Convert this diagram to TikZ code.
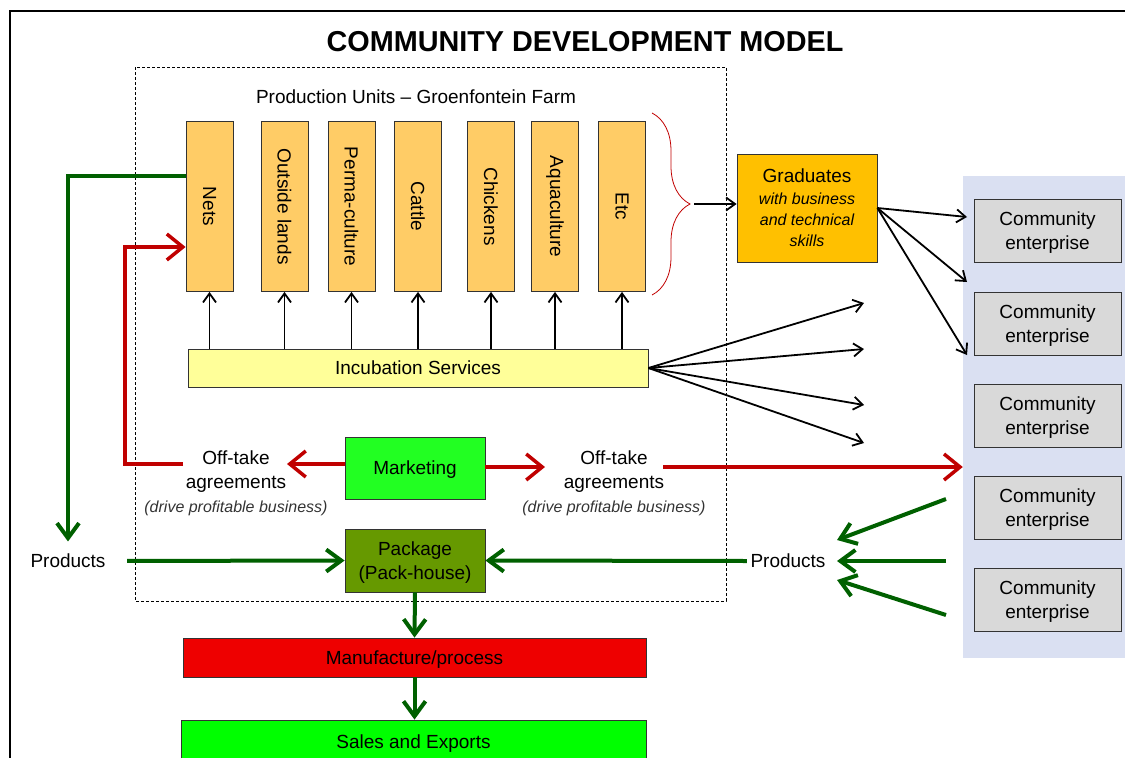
\documentclass[tikz,border=0pt]{standalone}
\usepackage{fontspec}
\setmainfont{Liberation Sans}
\usepackage{graphicx}
\usetikzlibrary{arrows.meta,decorations.pathreplacing}

\definecolor{unitfill}{HTML}{FFCC66}
\definecolor{gradfill}{HTML}{FFC000}
\definecolor{incfill}{HTML}{FFFF99}
\definecolor{mktfill}{HTML}{22FF22}
\definecolor{pkgfill}{HTML}{669900}
\definecolor{mfgfill}{HTML}{EE0000}
\definecolor{salesfill}{HTML}{00FF00}
\definecolor{cefill}{HTML}{D9D9D9}
\definecolor{cebackfill}{HTML}{DAE0F2}
\definecolor{redline}{HTML}{C00000}
\definecolor{greenline}{HTML}{006000}

\newcommand{\smallit}[1]{{\itshape\fontsize{16}{18}\selectfont #1}}

\tikzset{
  txt/.style={font=\fontsize{19}{24}\selectfont, align=center},
  unitbox/.style={txt, draw=black!80, line width=0.8pt, inner sep=0pt, fill=unitfill, minimum width=47pt, minimum height=170pt},
  box/.style={txt, draw=black!80, line width=0.8pt, inner sep=0pt, text depth=0pt},
  cebox/.style={box, fill=cefill, minimum width=147pt, minimum height=63pt},
  blackarr/.style={line width=1.8pt, -{Straight Barb[length=9pt,width=13pt]}},
  redarr/.style={draw=redline, line width=3.5pt, -{Straight Barb[length=16pt,width=26pt]}},
  greenarr/.style={draw=greenline, line width=4pt, -{Straight Barb[length=15pt,width=22pt]}}
}

\begin{document}
\begin{tikzpicture}[x=1pt, y=-1pt]
	\useasboundingbox (0,0) rectangle (1125,758);
	\draw[line width=1.5pt] (10,780) |- (1140,11);
	\node[font=\fontsize{28.8}{30}\selectfont\bfseries] (title) at (585,42) {COMMUNITY DEVELOPMENT MODEL};
	\draw[dashed, line width=0.8pt, dash pattern=on 3pt off 2pt] (135,67) rectangle (726,601);
	\node[txt] (prodlbl) at (416,97) {Production Units – Groenfontein Farm};

	% production units
	\foreach \n/\x/\t in {1/209.5/Nets, 2/284.5/Outside lands, 3/351.5/Perma-culture, 4/418/Cattle, 5/491/Chickens, 6/555/Aquaculture, 7/622/Etc}
	{
		\node[unitbox] (u\n) at (\x,206.5) {\rotatebox{-90}{\t}};
	}
	\draw[redline, line width=0.8pt, decorate, decoration={brace, amplitude=38pt}] (652,113) -- (652,295);
	\coordinate (bt) at (694,204);

	\node[box, fill=incfill, minimum width=460pt, minimum height=38pt] (inc) at (418,368) {Incubation Services};
	\foreach \n in {1,...,7}
	{
		\draw[blackarr] (inc.north -| u\n.south) -- (u\n.south);
	}

	\node[box, fill=gradfill, minimum width=140pt, minimum height=108pt, font=\fontsize{19}{23}\selectfont] (grad) at (807,208)
		{Graduates\\[-1pt]\smallit{with business}\\[-2pt]\smallit{and technical}\\[-2pt]\smallit{skills}};
	\draw[blackarr] (bt) -- (bt -| grad.west);

	% community enterprises
	\node[fill=cebackfill, minimum width=172pt, minimum height=482pt, inner sep=0pt] (ceback) at (1049,417) {};
	\foreach \n/\y in {1/230.5, 2/323.5, 3/415.5, 4/507.5, 5/599.5}
	{
		\node[cebox] (ce\n) at (1047.5,\y) {Community\\enterprise};
	}
	\foreach \y in {217,282,355}
	{
		\draw[blackarr] (grad.east) -- (967,\y);
	}
	\foreach \y in {303,349,405,443}
	{
		\draw[blackarr] (inc.east) -- (864,\y);
	}

	% marketing
	\node[box, fill=mktfill, minimum width=140pt, minimum height=62pt] (mkt) at (415,468) {Marketing};
	\node[txt] (offl) at (236,483) {Off-take\\agreements\\\textcolor{black!80}{\smallit{(drive profitable business)}}};
	\node[txt] (offr) at (614,483) {Off-take\\agreements\\\textcolor{black!80}{\smallit{(drive profitable business)}}};
	\coordinate (ml) at (287,464);
	\coordinate (mr) at (545,467);
	\coordinate (rl) at (183,464);
	\coordinate (rc) at (125,247);
	\coordinate (rr) at (663,467);
	\draw[redarr] (mkt.west |- ml) -- (ml);
	\draw[redarr] (mkt.east |- mr) -- (mr);
	\draw[redarr] (rl) -| (rc) -- (rc -| u1.west);
	\draw[redarr] (rr) -- (rr -| ceback.west);

	% products
	\node[box, fill=pkgfill, minimum width=140pt, minimum height=63pt] (pkg) at (415,560.5) {Package\\(Pack-house)};
	\node[txt] (prl) at (68,561) {Products};
	\node[txt] (prr) at (788,561) {Products};
	\draw[greenarr] (u1.west |- 0,176) -| ([yshift=9pt]prl.north);
	\draw[greenarr, shorten <=18pt] (prl.east) -- (pkg.west);
	\draw[greenarr] (prr.west) -- (pkg.east);
	\foreach \s/\e in {499/540, 561/561, 615/580}
	{
		\draw[greenarr] (946,\s) -- ([xshift=8pt]prr.east |- 0,\e);
	}

	\node[box, fill=mfgfill, minimum width=463pt, minimum height=39pt] (mfg) at (414.5,657.5) {Manufacture/process};
	\node[box, fill=salesfill, minimum width=465pt, minimum height=44pt] (sales) at (413.5,742) {Sales and Exports};
	\draw[greenarr] (pkg.south) -- (mfg.north);
	\draw[greenarr] (mfg.south) -- (mfg.south |- sales.north);
\end{tikzpicture}
\end{document}
